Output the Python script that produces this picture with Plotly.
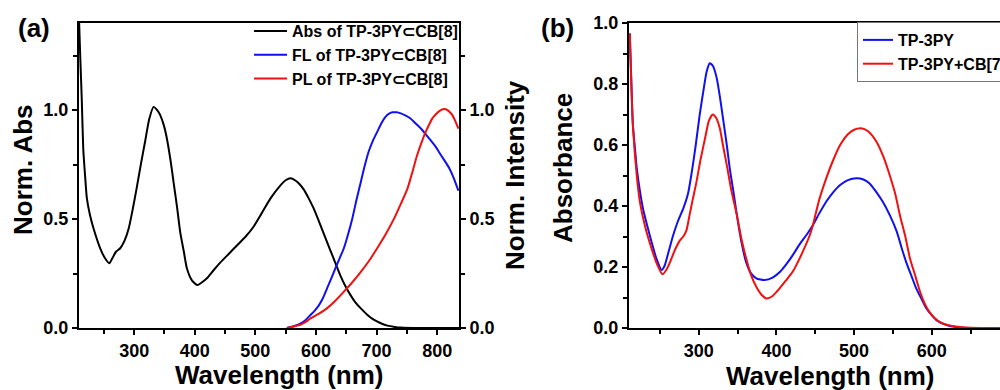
import plotly.graph_objects as go

# ---------------- Panel (a) data ----------------
abs_wl = [209, 211, 213.5, 216, 219, 222, 227, 233, 244, 252, 259, 264, 270, 277, 284, 291, 298, 304,
          311, 318, 325, 332, 338, 343, 349, 354, 360, 365, 371, 376, 382, 387, 395, 404, 412, 420,
          431, 442, 456, 470, 484, 497, 510, 525, 540, 550, 558, 566, 573, 580, 588, 596, 607, 618,
          629, 640, 648, 657, 665, 674, 685, 696, 707, 718, 730, 740, 760, 836]
abs_val = [1.42, 1.25, 1.055, 0.824, 0.70, 0.595, 0.52, 0.457, 0.366, 0.32, 0.297, 0.32, 0.35, 0.366,
           0.40, 0.457, 0.55, 0.64, 0.75, 0.855, 0.96, 1.015, 1.0, 0.977, 0.93, 0.87, 0.77, 0.67,
           0.55, 0.44, 0.35, 0.274, 0.22, 0.197, 0.21, 0.228, 0.265, 0.30, 0.34, 0.38, 0.42, 0.465,
           0.525, 0.595, 0.65, 0.678, 0.687, 0.677, 0.66, 0.635, 0.595, 0.55, 0.475, 0.396, 0.32, 0.243,
           0.195, 0.151, 0.118, 0.09, 0.06, 0.037, 0.022, 0.011, 0.005, 0.002, 0.0, 0.0]

fl_wl = [552, 563, 574, 583, 591, 598, 605, 612, 618, 625, 632, 639, 646, 653, 660, 667, 674, 680,
         687, 694, 701, 708, 715, 720, 726, 733, 740, 748, 756, 764, 773, 781, 789, 798, 806, 813,
         820, 827, 835]
fl_val = [0.0, 0.008, 0.02, 0.037, 0.06, 0.08, 0.105, 0.14, 0.18, 0.225, 0.274, 0.32, 0.366, 0.43,
          0.503, 0.59, 0.67, 0.74, 0.81, 0.86, 0.90, 0.94, 0.97, 0.983, 0.99, 0.99, 0.985, 0.975,
          0.962, 0.94, 0.916, 0.89, 0.862, 0.83, 0.794, 0.765, 0.733, 0.69, 0.63]

pl_wl = [552, 563, 574, 583, 591, 605, 618, 632, 646, 660, 674, 688, 701, 715, 729, 740, 751, 759,
         767, 774, 781, 787, 792, 799, 806, 812, 817, 821, 825, 829, 835]
pl_val = [0.0, 0.007, 0.015, 0.028, 0.044, 0.066, 0.09, 0.125, 0.167, 0.21, 0.258, 0.31, 0.366,
          0.43, 0.503, 0.57, 0.64, 0.715, 0.794, 0.85, 0.90, 0.935, 0.962, 0.985, 1.0, 1.005, 1.0,
          0.99, 0.977, 0.955, 0.915]

# ---------------- Panel (b) data ----------------
b_blue_wl = [211, 213, 215, 218, 220, 224, 228, 233, 239, 245, 252, 256, 261, 267, 273, 280, 286,
             291, 296, 301, 306, 310, 314, 318, 323, 327, 331, 336, 340, 345, 349, 355, 361, 367,
             374, 385, 395, 405, 413, 421, 430, 440, 447, 455, 464, 473, 482, 492, 503, 512, 520,
             528, 537, 546, 555, 561, 567, 574, 580, 587, 593, 600, 606, 619, 636, 688]
b_blue_val = [0.966, 0.808, 0.666, 0.58, 0.524, 0.45, 0.392, 0.34, 0.283, 0.23, 0.19, 0.205, 0.25,
              0.305, 0.35, 0.392, 0.44, 0.513, 0.60, 0.698, 0.78, 0.84, 0.868, 0.86, 0.82, 0.76,
              0.69, 0.60, 0.52, 0.44, 0.37, 0.28, 0.215, 0.18, 0.163, 0.157, 0.165, 0.185, 0.21,
              0.239, 0.275, 0.31, 0.338, 0.375, 0.414, 0.445, 0.469, 0.485, 0.491, 0.487, 0.474,
              0.448, 0.414, 0.37, 0.316, 0.265, 0.217, 0.17, 0.13, 0.095, 0.065, 0.042, 0.026, 0.01,
              0.002, 0.0]

b_red_wl = [211, 213, 215, 220, 224, 231, 239, 246, 253, 258, 263, 269, 275, 280, 284, 288, 292, 297,
            302, 308, 313, 318, 322, 327, 331, 336, 342, 349, 355, 361, 367, 374, 381, 387, 395, 404,
            412, 421, 432, 443, 447, 455, 464, 473, 482, 492, 500, 509, 518, 529, 538, 546, 553, 559,
            566, 572, 579, 585, 591, 597, 604, 610, 623, 643, 688]
b_red_val = [0.966, 0.80, 0.666, 0.50, 0.414, 0.33, 0.261, 0.21, 0.176, 0.19, 0.217, 0.255, 0.285,
             0.30, 0.32, 0.37, 0.42, 0.48, 0.55, 0.622, 0.68, 0.70, 0.69, 0.655, 0.60, 0.534, 0.45,
             0.37, 0.29, 0.228, 0.175, 0.135, 0.108, 0.097, 0.105, 0.13, 0.155, 0.185, 0.24, 0.305,
             0.338, 0.42, 0.49, 0.55, 0.60, 0.635, 0.65, 0.655, 0.645, 0.61, 0.56, 0.50, 0.44, 0.37,
             0.30, 0.228, 0.17, 0.119, 0.08, 0.053, 0.032, 0.02, 0.008, 0.002, 0.0]

a_names = ["Abs of TP-3PY\u2282CB[8]", "FL of TP-3PY\u2282CB[8]", "PL of TP-3PY\u2282CB[8]"]
b_names = ["TP-3PY", "TP-3PY+CB[7]"]

FONT = "Arial, Liberation Sans, sans-serif"
BLUE = "#1010F0"
RED = "#F01010"
SM = 0.6

fig = go.Figure()
fig.add_trace(go.Scatter(x=abs_wl, y=abs_val, name=a_names[0], mode="lines",
                         line=dict(color="black", width=2, shape="spline", smoothing=SM),
                         xaxis="x", yaxis="y", legend="legend"))
fig.add_trace(go.Scatter(x=fl_wl, y=fl_val, name=a_names[1], mode="lines",
                         line=dict(color=BLUE, width=2, shape="spline", smoothing=SM),
                         xaxis="x", yaxis="y2", legend="legend"))
fig.add_trace(go.Scatter(x=pl_wl, y=pl_val, name=a_names[2], mode="lines",
                         line=dict(color=RED, width=2, shape="spline", smoothing=SM),
                         xaxis="x", yaxis="y2", legend="legend"))
fig.add_trace(go.Scatter(x=b_blue_wl, y=b_blue_val, name=b_names[0], mode="lines",
                         line=dict(color=BLUE, width=2, shape="spline", smoothing=SM),
                         xaxis="x2", yaxis="y3", legend="legend2"))
fig.add_trace(go.Scatter(x=b_red_wl, y=b_red_val, name=b_names[1], mode="lines",
                         line=dict(color=RED, width=2, shape="spline", smoothing=SM),
                         xaxis="x2", yaxis="y3", legend="legend2"))

tickfont = dict(family=FONT, size=18, color="black", weight="bold")
ax_common = dict(showline=True, linecolor="black", linewidth=2, ticks="outside", ticklen=5,
                 tickwidth=2, tickcolor="black", showgrid=False, zeroline=False,
                 tickfont=tickfont)


def minor(d):
    return dict(ticks="outside", ticklen=4, tickwidth=2, tickcolor="black", dtick=d, tick0=0)


y0 = 1 - 328 / 390
y1 = 1 - 23 / 390

fig.update_layout(
    width=1000, height=390,
    margin=dict(l=0, r=0, t=0, b=0, autoexpand=False),
    paper_bgcolor="white", plot_bgcolor="white",
    xaxis=dict(domain=[79 / 1000, 459 / 1000], range=[209, 836], anchor="y", mirror=True,
               dtick=100, tick0=0, minor=minor(50), **ax_common),
    yaxis=dict(domain=[y0, y1], range=[0, 1.4], anchor="x", dtick=0.5, tick0=0, tickformat=".1f",
               minor=minor(0.25), **ax_common),
    yaxis2=dict(range=[0, 1.4], anchor="x", overlaying="y", side="right", dtick=0.5, tick0=0,
                tickformat=".1f", minor=minor(0.25), **ax_common),
    xaxis2=dict(domain=[629 / 1000, 1.0], range=[210, 688], anchor="y3", mirror=True,
                dtick=100, tick0=0, minor=minor(50), **ax_common),
    yaxis3=dict(domain=[y0, y1], range=[0, 1.0], anchor="x2", dtick=0.2, tick0=0, tickformat=".1f",
                minor=minor(0.1), **ax_common),
    legend=dict(x=249 / 1000, y=1 - 14 / 390, xanchor="left", yanchor="top",
                bgcolor="rgba(0,0,0,0)", borderwidth=0,
                font=dict(family=FONT, size=16, color="black", weight="bold"),
                tracegroupgap=0, itemwidth=33),
    legend2=dict(x=857 / 1000, y=1 - 22 / 390, xanchor="left", yanchor="top",
                 bgcolor="white", bordercolor="#777777", borderwidth=1,
                 font=dict(family=FONT, size=16, color="black", weight="bold"),
                 tracegroupgap=0, itemwidth=30),
    showlegend=True,
)

ann_font = dict(family=FONT, size=26, color="black", weight="bold")
annotations = [
    dict(text="(a)", x=34, y=28),
    dict(text="(b)", x=557, y=28),
    dict(text="Wavelength (nm)", x=279, y=375),
    dict(text="Wavelength (nm)", x=830, y=376),
    dict(text="Norm. Abs", x=23, y=170, textangle=-90),
    dict(text="Norm. Intensity", x=515, y=175, textangle=-90),
    dict(text="Absorbance", x=563, y=168, textangle=-90),
]
for a in annotations:
    fig.add_annotation(text=a["text"], x=a["x"] / 1000, y=1 - a["y"] / 390, xref="paper", yref="paper",
                       xanchor="center", yanchor="middle", showarrow=False,
                       textangle=a.get("textangle", 0), font=ann_font)

fig.write_html("out.html")
